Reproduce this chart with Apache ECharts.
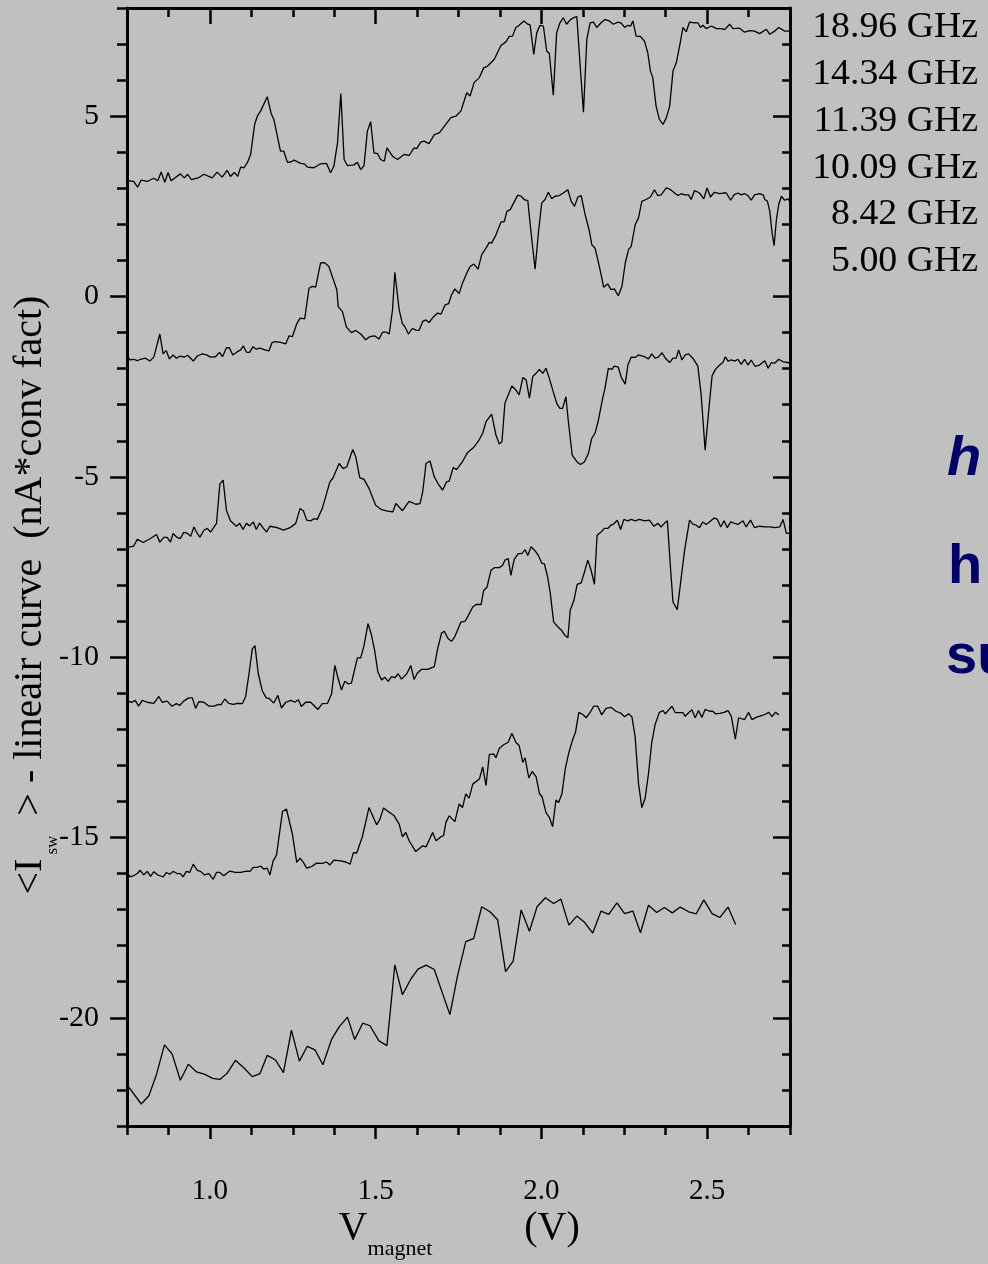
<!DOCTYPE html>
<html><head><meta charset="utf-8">
<script src="https://cdn.jsdelivr.net/npm/echarts@6/dist/echarts.min.js"></script>
<style>html,body{margin:0;padding:0;background:#c0c0c0;}#chart{width:988px;height:1264px;}</style>
</head><body><div id="chart"></div>
<script>
// ---- data (x = V_magnet in V, y = <I_sw> - linear curve) ----
const frequencyLabels = ['18.96 GHz','14.34 GHz','11.39 GHz','10.09 GHz','8.42 GHz','5.00 GHz'];
const xMajorTicks = [1.0, 1.5, 2.0, 2.5];
const xMinorTicks = [0.75,0.875,1.0,1.125,1.25,1.375,1.5,1.625,1.75,1.875,2.0,2.125,2.25,2.375,2.5,2.625,2.75];
const yMajorTicks = [-20, -15, -10, -5, 0, 5];
const yMinorTicks = [-23,-22,-21,-20,-19,-18,-17,-16,-15,-14,-13,-12,-11,-10,-9,-8,-7,-6,-5,-4,-3,-2,-1,0,1,2,3,4,5,6,7,8];

const curve1896 = [[0.750,3.21],[0.770,3.19],[0.782,3.03],[0.793,3.23],[0.811,3.19],[0.831,3.28],[0.843,3.21],[0.853,3.45],[0.864,3.17],[0.874,3.44],[0.883,3.21],[0.911,3.40],[0.923,3.29],[0.933,3.39],[0.944,3.24],[0.967,3.30],[0.982,3.39],[1.007,3.29],[1.022,3.45],[1.037,3.31],[1.052,3.50],[1.062,3.33],[1.074,3.44],[1.084,3.33],[1.093,3.59],[1.103,3.57],[1.113,3.71],[1.123,3.94],[1.135,4.77],[1.143,5.00],[1.153,5.14],[1.173,5.54],[1.185,5.07],[1.193,4.91],[1.213,4.03],[1.223,4.03],[1.234,3.72],[1.244,3.73],[1.254,3.78],[1.274,3.69],[1.286,3.67],[1.294,3.59],[1.314,3.57],[1.334,3.68],[1.352,3.69],[1.364,3.43],[1.374,3.61],[1.385,4.26],[1.395,5.63],[1.405,3.80],[1.415,3.63],[1.435,3.65],[1.445,3.72],[1.455,3.52],[1.465,3.63],[1.475,4.58],[1.485,4.85],[1.495,3.98],[1.506,3.96],[1.515,3.80],[1.526,3.75],[1.534,4.12],[1.551,3.89],[1.566,3.80],[1.586,3.94],[1.601,3.91],[1.616,4.12],[1.624,4.10],[1.636,4.28],[1.646,4.31],[1.661,4.24],[1.677,4.49],[1.692,4.54],[1.707,4.72],[1.727,4.96],[1.742,5.00],[1.757,5.14],[1.775,5.65],[1.785,5.56],[1.797,5.93],[1.813,6.07],[1.826,6.34],[1.838,6.39],[1.858,6.58],[1.878,6.96],[1.893,7.06],[1.903,7.21],[1.913,7.22],[1.923,7.46],[1.933,7.52],[1.947,7.64],[1.959,7.55],[1.966,7.53],[1.977,6.71],[1.986,7.31],[1.996,7.52],[2.006,7.50],[2.016,6.81],[2.024,6.74],[2.036,5.58],[2.046,7.31],[2.056,7.59],[2.066,7.73],[2.076,7.55],[2.087,7.67],[2.097,7.73],[2.107,7.76],[2.117,6.39],[2.127,5.11],[2.137,7.12],[2.147,7.59],[2.157,7.61],[2.167,7.46],[2.180,7.59],[2.192,7.68],[2.205,7.64],[2.217,7.55],[2.231,7.61],[2.241,7.58],[2.251,7.46],[2.261,7.52],[2.269,7.50],[2.276,7.64],[2.286,7.22],[2.299,7.21],[2.311,7.08],[2.321,6.76],[2.329,6.25],[2.336,6.07],[2.346,5.28],[2.356,4.91],[2.367,4.77],[2.377,4.96],[2.387,5.28],[2.397,6.25],[2.407,6.48],[2.417,6.94],[2.427,7.46],[2.437,7.34],[2.447,7.61],[2.462,7.59],[2.472,7.59],[2.480,7.46],[2.487,7.52],[2.497,7.43],[2.513,7.50],[2.528,7.43],[2.543,7.43],[2.553,7.40],[2.568,7.55],[2.578,7.43],[2.598,7.44],[2.613,7.33],[2.628,7.37],[2.643,7.36],[2.658,7.29],[2.679,7.41],[2.689,7.27],[2.704,7.36],[2.716,7.46],[2.734,7.36],[2.750,7.36]];

const curve1434 = [[0.750,-1.65],[0.760,-1.76],[0.770,-1.74],[0.781,-1.78],[0.790,-1.74],[0.806,-1.71],[0.819,-1.79],[0.831,-1.68],[0.849,-1.04],[0.859,-1.59],[0.868,-1.50],[0.878,-1.73],[0.889,-1.62],[0.899,-1.71],[0.911,-1.65],[0.923,-1.68],[0.933,-1.63],[0.950,-1.79],[0.962,-1.65],[0.977,-1.59],[0.990,-1.62],[1.002,-1.68],[1.017,-1.67],[1.029,-1.55],[1.038,-1.67],[1.050,-1.42],[1.059,-1.42],[1.069,-1.62],[1.083,-1.53],[1.093,-1.48],[1.101,-1.37],[1.110,-1.54],[1.120,-1.55],[1.130,-1.39],[1.140,-1.46],[1.151,-1.43],[1.166,-1.48],[1.178,-1.51],[1.188,-1.27],[1.198,-1.25],[1.213,-1.27],[1.229,-1.31],[1.239,-1.09],[1.249,-1.11],[1.262,-0.76],[1.272,-0.60],[1.286,-0.62],[1.299,0.23],[1.309,0.28],[1.319,0.26],[1.334,0.93],[1.346,0.94],[1.359,0.83],[1.371,0.51],[1.383,0.19],[1.387,-0.28],[1.400,-0.42],[1.412,-0.85],[1.427,-1.00],[1.440,-0.94],[1.455,-1.04],[1.470,-1.20],[1.483,-1.11],[1.497,-1.09],[1.510,-1.18],[1.521,-0.99],[1.533,-0.99],[1.541,-1.04],[1.551,-0.37],[1.558,0.67],[1.571,-0.37],[1.581,-0.76],[1.588,-0.83],[1.599,-1.04],[1.611,-0.88],[1.621,-0.93],[1.631,-0.94],[1.642,-0.69],[1.652,-0.65],[1.661,-0.72],[1.675,-0.56],[1.687,-0.46],[1.697,-0.49],[1.710,-0.23],[1.720,-0.20],[1.729,0.05],[1.739,0.21],[1.752,0.08],[1.762,0.37],[1.775,0.65],[1.785,0.83],[1.796,0.90],[1.809,0.76],[1.820,1.16],[1.833,1.34],[1.843,1.50],[1.850,1.48],[1.863,1.71],[1.878,2.06],[1.888,2.08],[1.896,2.36],[1.906,2.41],[1.916,2.59],[1.929,2.81],[1.939,2.78],[1.948,2.69],[1.959,2.66],[1.969,1.76],[1.981,0.76],[1.991,1.76],[2.001,2.59],[2.011,2.69],[2.021,2.89],[2.031,2.71],[2.041,2.78],[2.054,2.80],[2.066,2.87],[2.080,2.96],[2.090,2.64],[2.100,2.50],[2.110,2.76],[2.120,2.80],[2.132,2.27],[2.145,1.81],[2.152,1.44],[2.162,1.34],[2.175,0.83],[2.188,0.26],[2.200,0.35],[2.210,0.19],[2.220,0.21],[2.232,0.02],[2.243,0.28],[2.253,0.93],[2.263,1.30],[2.271,1.39],[2.283,1.99],[2.293,2.18],[2.303,2.64],[2.316,2.69],[2.329,2.76],[2.341,2.96],[2.351,2.80],[2.361,2.82],[2.377,3.01],[2.387,2.98],[2.402,2.87],[2.412,2.80],[2.422,2.85],[2.432,2.82],[2.444,2.82],[2.452,2.69],[2.462,2.94],[2.477,2.87],[2.490,2.71],[2.500,3.01],[2.510,2.76],[2.522,2.89],[2.538,2.85],[2.548,2.87],[2.558,2.87],[2.571,2.67],[2.581,2.82],[2.593,2.87],[2.603,2.82],[2.613,2.85],[2.623,2.80],[2.633,2.67],[2.643,2.82],[2.658,2.85],[2.669,2.82],[2.674,2.69],[2.682,2.64],[2.689,2.36],[2.696,1.76],[2.702,1.41],[2.709,2.13],[2.716,2.55],[2.724,2.78],[2.734,2.67],[2.744,2.71],[2.750,2.61]];

const curve1139 = [[0.750,-6.93],[0.760,-6.94],[0.770,-6.92],[0.781,-6.73],[0.799,-6.82],[0.821,-6.71],[0.839,-6.60],[0.849,-6.81],[0.861,-6.68],[0.871,-6.68],[0.881,-6.81],[0.889,-6.57],[0.901,-6.68],[0.911,-6.71],[0.921,-6.54],[0.933,-6.57],[0.942,-6.65],[0.952,-6.39],[0.962,-6.57],[0.970,-6.67],[0.982,-6.48],[0.992,-6.43],[1.002,-6.53],[1.020,-6.29],[1.030,-5.20],[1.040,-5.09],[1.050,-5.93],[1.062,-6.22],[1.080,-6.37],[1.090,-6.29],[1.100,-6.46],[1.110,-6.29],[1.120,-6.36],[1.131,-6.25],[1.140,-6.46],[1.150,-6.28],[1.160,-6.41],[1.171,-6.53],[1.181,-6.37],[1.203,-6.41],[1.222,-6.48],[1.242,-6.41],[1.259,-6.29],[1.272,-5.88],[1.282,-5.94],[1.292,-6.20],[1.304,-6.22],[1.314,-6.16],[1.324,-6.18],[1.339,-5.88],[1.362,-5.14],[1.371,-5.04],[1.390,-4.63],[1.402,-4.77],[1.413,-4.72],[1.431,-4.24],[1.440,-4.44],[1.452,-5.02],[1.465,-5.07],[1.480,-5.32],[1.500,-5.79],[1.518,-5.91],[1.536,-5.95],[1.552,-5.97],[1.561,-5.74],[1.581,-5.94],[1.601,-5.68],[1.621,-5.76],[1.634,-5.74],[1.642,-5.42],[1.652,-4.63],[1.664,-4.56],[1.677,-5.00],[1.689,-5.20],[1.702,-5.37],[1.714,-5.14],[1.722,-5.12],[1.734,-4.74],[1.744,-4.80],[1.762,-4.58],[1.777,-4.33],[1.797,-4.17],[1.812,-3.98],[1.823,-3.79],[1.833,-3.47],[1.850,-3.26],[1.863,-3.84],[1.873,-4.09],[1.881,-4.03],[1.890,-2.96],[1.900,-2.73],[1.911,-2.48],[1.923,-2.59],[1.933,-2.73],[1.944,-2.25],[1.954,-2.31],[1.964,-2.82],[1.974,-2.22],[1.984,-2.13],[1.994,-2.02],[2.004,-2.13],[2.014,-1.99],[2.024,-2.27],[2.037,-2.68],[2.047,-2.98],[2.056,-3.10],[2.064,-3.10],[2.074,-2.78],[2.081,-3.43],[2.093,-4.40],[2.107,-4.58],[2.118,-4.66],[2.130,-4.58],[2.142,-4.35],[2.152,-3.93],[2.162,-3.79],[2.172,-3.43],[2.185,-2.82],[2.192,-2.54],[2.202,-1.99],[2.213,-2.02],[2.220,-1.93],[2.232,-1.96],[2.241,-2.24],[2.253,-2.43],[2.261,-1.90],[2.271,-1.68],[2.283,-1.69],[2.293,-1.62],[2.311,-1.67],[2.323,-1.73],[2.333,-1.59],[2.343,-1.71],[2.353,-1.68],[2.364,-1.56],[2.374,-1.71],[2.387,-1.83],[2.397,-1.71],[2.407,-1.71],[2.414,-1.48],[2.424,-1.76],[2.434,-1.62],[2.444,-1.59],[2.457,-1.71],[2.472,-1.93],[2.482,-2.73],[2.494,-4.26],[2.504,-3.24],[2.515,-2.20],[2.525,-2.02],[2.538,-1.90],[2.548,-1.82],[2.555,-1.67],[2.563,-1.79],[2.573,-1.76],[2.583,-1.79],[2.593,-1.74],[2.603,-1.88],[2.613,-1.74],[2.623,-1.90],[2.633,-1.76],[2.645,-1.94],[2.658,-1.90],[2.674,-1.78],[2.684,-1.99],[2.694,-1.83],[2.704,-1.85],[2.716,-1.74],[2.729,-1.81],[2.744,-1.83],[2.750,-1.87]];

const curve1009 = [[0.750,-11.22],[0.765,-11.25],[0.775,-11.20],[0.785,-11.36],[0.796,-11.20],[0.811,-11.25],[0.831,-11.28],[0.846,-11.09],[0.856,-11.25],[0.871,-11.22],[0.886,-11.36],[0.899,-11.29],[0.909,-11.34],[0.921,-11.22],[0.936,-11.13],[0.947,-11.13],[0.957,-11.42],[0.967,-11.23],[0.982,-11.25],[0.997,-11.36],[1.012,-11.36],[1.027,-11.31],[1.034,-11.32],[1.045,-11.16],[1.057,-11.28],[1.071,-11.31],[1.084,-11.28],[1.098,-11.29],[1.108,-11.09],[1.118,-10.46],[1.128,-9.77],[1.136,-9.68],[1.146,-10.46],[1.158,-10.93],[1.170,-11.13],[1.178,-11.14],[1.193,-11.27],[1.205,-11.06],[1.216,-11.41],[1.229,-11.25],[1.244,-11.20],[1.256,-11.25],[1.267,-11.18],[1.276,-11.37],[1.289,-11.25],[1.304,-11.25],[1.326,-11.45],[1.339,-11.29],[1.355,-11.28],[1.367,-11.02],[1.377,-10.23],[1.387,-10.60],[1.397,-10.91],[1.407,-10.67],[1.417,-10.74],[1.427,-10.72],[1.445,-10.02],[1.455,-10.02],[1.465,-9.68],[1.477,-9.07],[1.487,-9.37],[1.497,-9.81],[1.507,-10.42],[1.518,-10.63],[1.528,-10.56],[1.538,-10.67],[1.548,-10.54],[1.558,-10.57],[1.568,-10.46],[1.578,-10.61],[1.594,-10.46],[1.606,-10.23],[1.616,-10.62],[1.626,-10.44],[1.638,-10.34],[1.657,-10.34],[1.677,-10.26],[1.687,-9.77],[1.699,-9.33],[1.707,-9.28],[1.719,-9.49],[1.729,-9.56],[1.739,-9.43],[1.757,-9.03],[1.770,-9.00],[1.777,-8.89],[1.793,-8.61],[1.803,-8.54],[1.818,-8.54],[1.826,-8.15],[1.836,-8.06],[1.848,-7.59],[1.858,-7.52],[1.873,-7.52],[1.883,-7.45],[1.890,-7.31],[1.900,-7.27],[1.908,-7.73],[1.918,-7.29],[1.930,-7.13],[1.941,-7.13],[1.951,-7.02],[1.959,-7.18],[1.969,-6.94],[1.981,-7.05],[1.991,-7.18],[2.001,-7.39],[2.009,-7.41],[2.019,-7.78],[2.027,-8.24],[2.037,-9.03],[2.049,-9.15],[2.061,-9.26],[2.069,-9.37],[2.080,-9.46],[2.087,-8.70],[2.098,-8.43],[2.108,-7.98],[2.120,-7.94],[2.130,-7.64],[2.140,-7.31],[2.150,-7.59],[2.160,-7.98],[2.168,-6.62],[2.180,-6.53],[2.190,-6.43],[2.200,-6.43],[2.210,-6.34],[2.219,-6.30],[2.229,-6.20],[2.239,-6.46],[2.249,-6.18],[2.261,-6.22],[2.271,-6.18],[2.283,-6.22],[2.296,-6.18],[2.311,-6.22],[2.326,-6.20],[2.339,-6.37],[2.352,-6.29],[2.361,-6.39],[2.371,-6.29],[2.380,-6.22],[2.390,-7.59],[2.397,-8.47],[2.410,-8.68],[2.422,-7.78],[2.432,-7.04],[2.447,-6.20],[2.457,-6.31],[2.467,-6.34],[2.477,-6.41],[2.487,-6.25],[2.497,-6.32],[2.507,-6.25],[2.521,-6.14],[2.531,-6.18],[2.541,-6.39],[2.551,-6.22],[2.561,-6.41],[2.571,-6.25],[2.583,-6.29],[2.593,-6.32],[2.608,-6.22],[2.618,-6.39],[2.631,-6.20],[2.643,-6.41],[2.658,-6.37],[2.674,-6.39],[2.689,-6.39],[2.704,-6.41],[2.719,-6.39],[2.729,-6.18],[2.739,-6.57],[2.749,-6.56]];

const curve842 = [[0.750,-15.97],[0.760,-16.09],[0.770,-16.06],[0.781,-16.00],[0.790,-15.91],[0.800,-16.04],[0.811,-15.94],[0.821,-16.08],[0.831,-15.95],[0.843,-16.04],[0.859,-16.09],[0.869,-15.97],[0.879,-16.02],[0.889,-15.94],[0.901,-16.00],[0.911,-16.00],[0.919,-16.09],[0.929,-15.94],[0.939,-15.97],[0.950,-15.74],[0.962,-15.91],[0.972,-15.94],[0.984,-16.04],[0.997,-16.00],[1.010,-16.16],[1.020,-15.97],[1.030,-15.97],[1.042,-16.06],[1.060,-15.93],[1.077,-15.97],[1.093,-15.97],[1.111,-15.93],[1.121,-15.94],[1.131,-15.83],[1.143,-15.83],[1.153,-15.79],[1.163,-15.88],[1.173,-15.85],[1.181,-16.04],[1.191,-15.65],[1.201,-15.49],[1.219,-14.28],[1.231,-14.21],[1.249,-14.91],[1.262,-15.69],[1.272,-15.57],[1.282,-15.69],[1.292,-15.85],[1.306,-15.81],[1.322,-15.71],[1.339,-15.72],[1.352,-15.68],[1.362,-15.76],[1.374,-15.63],[1.395,-15.65],[1.410,-15.68],[1.423,-15.74],[1.433,-15.42],[1.443,-15.43],[1.460,-14.98],[1.480,-14.17],[1.503,-14.65],[1.513,-14.49],[1.524,-14.18],[1.538,-14.28],[1.556,-14.40],[1.571,-14.63],[1.581,-14.98],[1.591,-14.86],[1.601,-15.09],[1.621,-15.39],[1.642,-15.23],[1.652,-15.26],[1.672,-14.86],[1.682,-15.09],[1.697,-14.98],[1.705,-14.95],[1.712,-14.58],[1.722,-14.40],[1.739,-14.56],[1.752,-14.07],[1.762,-14.17],[1.772,-13.79],[1.782,-13.91],[1.793,-13.52],[1.813,-13.38],[1.823,-13.04],[1.833,-13.56],[1.843,-12.70],[1.856,-12.68],[1.863,-12.79],[1.873,-12.53],[1.886,-12.43],[1.900,-12.36],[1.911,-12.11],[1.923,-12.36],[1.933,-12.45],[1.944,-12.92],[1.951,-12.79],[1.962,-13.35],[1.972,-13.17],[1.984,-13.31],[1.994,-13.78],[2.002,-13.87],[2.014,-14.31],[2.024,-14.44],[2.034,-14.70],[2.044,-13.96],[2.052,-14.03],[2.062,-13.79],[2.072,-13.10],[2.083,-12.64],[2.095,-12.27],[2.103,-12.08],[2.113,-11.53],[2.125,-11.59],[2.135,-11.68],[2.145,-11.56],[2.158,-11.36],[2.170,-11.36],[2.182,-11.60],[2.195,-11.42],[2.210,-11.39],[2.225,-11.50],[2.241,-11.56],[2.251,-11.65],[2.263,-11.57],[2.273,-11.65],[2.283,-12.22],[2.293,-13.50],[2.303,-14.17],[2.313,-13.91],[2.323,-13.24],[2.333,-12.36],[2.343,-11.87],[2.356,-11.53],[2.367,-11.48],[2.374,-11.57],[2.384,-11.46],[2.394,-11.36],[2.404,-11.54],[2.417,-11.54],[2.427,-11.54],[2.434,-11.64],[2.444,-11.54],[2.454,-11.46],[2.464,-11.68],[2.474,-11.48],[2.484,-11.67],[2.494,-11.45],[2.507,-11.50],[2.517,-11.50],[2.525,-11.57],[2.538,-11.56],[2.551,-11.53],[2.563,-11.48],[2.573,-11.64],[2.585,-12.27],[2.595,-11.68],[2.613,-11.73],[2.625,-11.53],[2.635,-11.73],[2.648,-11.67],[2.664,-11.62],[2.674,-11.59],[2.686,-11.53],[2.696,-11.65],[2.706,-11.53],[2.716,-11.60]];

const curve500 = [[0.750,-21.85],[0.793,-22.39],[0.816,-22.16],[0.839,-21.57],[0.863,-20.75],[0.886,-21.00],[0.911,-21.73],[0.935,-21.29],[0.960,-21.50],[0.985,-21.57],[1.008,-21.68],[1.030,-21.71],[1.052,-21.54],[1.077,-21.18],[1.103,-21.39],[1.128,-21.63],[1.151,-21.55],[1.173,-21.04],[1.198,-21.17],[1.222,-21.52],[1.246,-20.34],[1.270,-21.20],[1.294,-20.79],[1.317,-20.89],[1.341,-21.30],[1.367,-20.60],[1.390,-20.25],[1.415,-19.98],[1.437,-20.60],[1.461,-20.15],[1.483,-20.22],[1.510,-20.64],[1.534,-20.77],[1.558,-18.53],[1.581,-19.36],[1.606,-18.93],[1.628,-18.65],[1.652,-18.54],[1.677,-18.66],[1.702,-19.33],[1.724,-19.91],[1.747,-18.84],[1.772,-17.89],[1.796,-17.80],[1.820,-16.92],[1.845,-17.06],[1.868,-17.28],[1.892,-18.72],[1.915,-18.43],[1.939,-17.01],[1.964,-17.60],[1.987,-16.92],[2.012,-16.67],[2.037,-16.83],[2.059,-16.71],[2.083,-17.43],[2.107,-17.18],[2.130,-17.35],[2.155,-17.65],[2.180,-17.04],[2.203,-17.13],[2.228,-16.81],[2.251,-17.11],[2.276,-17.04],[2.299,-17.64],[2.323,-16.88],[2.348,-17.08],[2.371,-16.94],[2.395,-17.09],[2.419,-16.93],[2.444,-17.06],[2.467,-17.12],[2.490,-16.73],[2.515,-17.11],[2.538,-17.22],[2.563,-16.93],[2.586,-17.41]];

const curves = [curve1896, curve1434, curve1139, curve1009, curve842, curve500];

// ---- chart ----
const serif = "'Liberation Serif', 'Times New Roman', serif";
const sans = "'Liberation Sans', Arial, sans-serif";
const chart = echarts.init(document.getElementById('chart'), null, {renderer: 'canvas'});

const X0 = 0.75, X1 = 2.75, Y0 = -23, Y1 = 8;
function xAx(pos, ticks, len, inside, showLine, showLabel) {
  return {
    type: 'value', position: pos, min: X0, max: X1,
    axisLine: {show: showLine, onZero: false, lineStyle: {color: '#000', width: 3}},
    axisTick: {show: true, inside: inside, length: len, customValues: ticks, lineStyle: {color: '#000', width: 2.5}},
    axisLabel: showLabel ? {show: true, customValues: xMajorTicks, formatter: v => v.toFixed(1), color: '#000', fontFamily: serif, fontSize: 29, margin: 51} : {show: false},
    splitLine: {show: false}
  };
}
function yAx(pos, ticks, len, inside, showLine, showLabel) {
  return {
    type: 'value', position: pos, min: Y0, max: Y1,
    axisLine: {show: showLine, onZero: false, lineStyle: {color: '#000', width: 3}},
    axisTick: {show: true, inside: inside, length: len, customValues: ticks, lineStyle: {color: '#000', width: 2.5}},
    axisLabel: showLabel ? {show: true, customValues: yMajorTicks, formatter: v => String(v), color: '#000', fontFamily: serif, fontSize: 30, margin: 28} : {show: false},
    splitLine: {show: false}
  };
}

const legendGraphics = frequencyLabels.map((t, i) => ({
  type: 'text', x: 978, y: 28 + i * 46.8, scaleX: 1.08,
  style: {text: t, font: '35px ' + serif, fill: '#000', align: 'right', verticalAlign: 'middle'}
}));

chart.setOption({
  backgroundColor: '#c0c0c0',
  animation: false,
  grid: {left: 127, right: 198, top: 8, bottom: 138, containLabel: false},
  xAxis: [
    xAx('bottom', xMajorTicks, 13, false, true, true),
    xAx('bottom', xMinorTicks, 9, false, false, false),
    xAx('top', xMajorTicks, 16, true, true, false),
    xAx('top', xMinorTicks, 9, true, false, false)
  ],
  yAxis: [
    yAx('left', yMajorTicks, 17, false, true, true),
    yAx('left', yMinorTicks, 10, false, false, false),
    yAx('right', yMajorTicks, 17, true, true, false),
    yAx('right', yMinorTicks, 8, true, false, false)
  ],
  series: curves.map((c, i) => ({
    name: frequencyLabels[i], type: 'line', data: c, xAxisIndex: 0, yAxisIndex: 0,
    showSymbol: false, symbol: 'none', smooth: false,
    lineStyle: {color: '#000', width: 1.3}, z: 2
  })),
  graphic: [
    ...legendGraphics,
    {type: 'text', x: 30, y: 595, rotation: Math.PI / 2,
     style: {text: '{a|<I}{b|sw}{a|> - lineair curve  (nA*conv fact)}', align: 'center', verticalAlign: 'middle',
       rich: {a: {fontFamily: serif, fontSize: 40, lineHeight: 62, fill: '#000', verticalAlign: 'middle'},
              b: {fontFamily: serif, fontSize: 17, lineHeight: 17, fill: '#000', verticalAlign: 'bottom', padding: [0, 20, 0, 4]}}}},
    {type: 'text', x: 353, y: 1228, style: {text: 'V', font: '40px ' + serif, fill: '#000', align: 'center', verticalAlign: 'middle'}},
    {type: 'text', x: 400, y: 1249, style: {text: 'magnet', font: '22px ' + serif, fill: '#000', align: 'center', verticalAlign: 'middle'}},
    {type: 'text', x: 552, y: 1228, style: {text: '(V)', font: '40px ' + serif, fill: '#000', align: 'center', verticalAlign: 'middle'}},
    {type: 'text', x: 947, y: 460, style: {text: 'h', font: 'italic bold 56px ' + sans, fill: '#000066', align: 'left', verticalAlign: 'middle'}},
    {type: 'text', x: 948, y: 568, style: {text: 'h', font: 'bold 56px ' + sans, fill: '#000066', align: 'left', verticalAlign: 'middle'}},
    {type: 'text', x: 946, y: 658, style: {text: 'su', font: 'bold 56px ' + sans, fill: '#000066', align: 'left', verticalAlign: 'middle'}}
  ]
});
</script></body></html>
